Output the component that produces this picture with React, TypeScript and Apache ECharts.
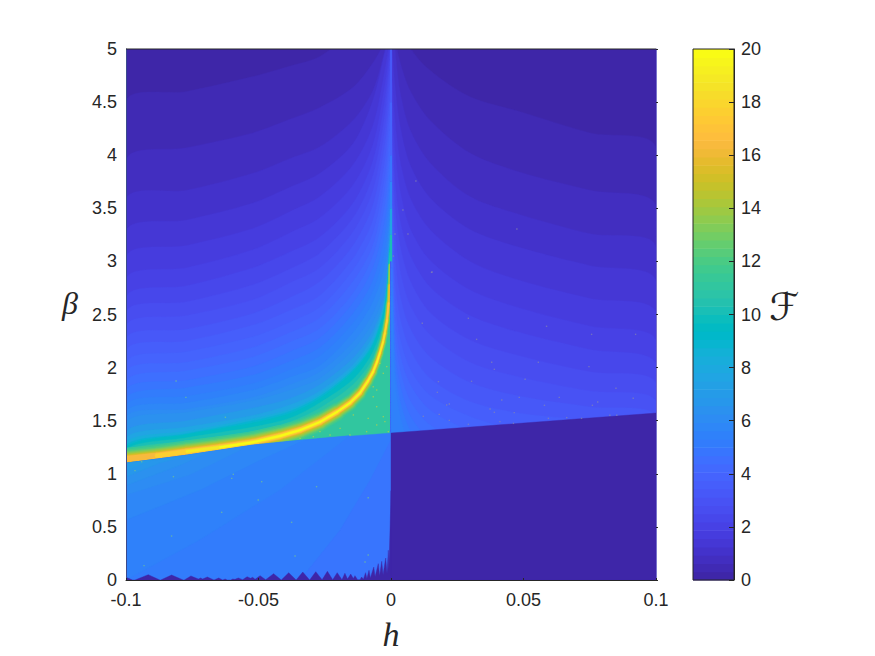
import React, { useEffect, useRef } from "react";
import * as echarts from "echarts";

// Parula colormap, 64 levels: one entry per colour-bar band
const parula: number[][] = [
  [0.2422,0.1504,0.6603],[0.2504,0.165,0.7076],[0.2578,0.1818,0.7511],[0.2647,0.1978,0.7952],
  [0.2706,0.2147,0.8364],[0.2751,0.2342,0.871],[0.2783,0.2559,0.8991],[0.2803,0.2782,0.9221],
  [0.2813,0.3006,0.9414],[0.281,0.3228,0.9579],[0.2795,0.3447,0.9717],[0.276,0.3667,0.9829],
  [0.2699,0.3892,0.9906],[0.2602,0.4123,0.9952],[0.244,0.4358,0.9988],[0.2206,0.4603,0.9973],
  [0.1963,0.4847,0.9892],[0.1834,0.5074,0.9798],[0.1786,0.5289,0.9682],[0.1764,0.5499,0.952],
  [0.1687,0.5703,0.9359],[0.154,0.5902,0.9218],[0.146,0.6091,0.9079],[0.138,0.6276,0.8973],
  [0.1248,0.6459,0.8883],[0.1113,0.6635,0.8763],[0.0952,0.6798,0.8598],[0.0689,0.6948,0.8394],
  [0.0297,0.7082,0.8163],[0.0036,0.7203,0.7917],[0.0067,0.7312,0.766],[0.0433,0.7411,0.7394],
  [0.0964,0.75,0.712],[0.1408,0.7584,0.6842],[0.1717,0.767,0.6554],[0.1938,0.7758,0.6251],
  [0.2161,0.7843,0.5923],[0.247,0.7918,0.5567],[0.2906,0.7973,0.5188],[0.3406,0.8008,0.4789],
  [0.3909,0.8029,0.4354],[0.4456,0.8024,0.3909],[0.5044,0.7993,0.348],[0.5616,0.7942,0.3045],
  [0.6174,0.7876,0.2612],[0.672,0.7793,0.2227],[0.7242,0.7698,0.191],[0.7738,0.7598,0.1646],
  [0.8203,0.7498,0.1535],[0.8634,0.7406,0.1596],[0.9035,0.733,0.1774],[0.9393,0.7288,0.21],
  [0.9728,0.7298,0.2394],[0.9956,0.7434,0.2371],[0.997,0.7659,0.2199],[0.9952,0.7893,0.2028],
  [0.9892,0.8136,0.1885],[0.9786,0.8386,0.1766],[0.9676,0.8639,0.1643],[0.961,0.889,0.1537],
  [0.9597,0.9135,0.1423],[0.9628,0.9373,0.1265],[0.9691,0.9606,0.1064],[0.9769,0.9839,0.0805],
];
const levelColor = (i: number) => {
  const c = parula[Math.max(0, Math.min(63, i))];
  return `rgb(${Math.round(c[0] * 255)},${Math.round(c[1] * 255)},${Math.round(c[2] * 255)})`;
};

const hTicks = { min: -0.1, max: 0.1, interval: 0.05 };
const betaTicks = { min: 0, max: 5, interval: 0.5 };
const fTicks = { min: 0, max: 20, interval: 2 };

// Upper-left contours (h<0): beta of each colour level at each h column
const leftH = [-0.1, -0.077, -0.0521, -0.038, -0.0268, -0.0143, -0.0068, -0.0023, -0.0004];
const leftLevels = [1,2,3,4,5,6,7,8,9,10,11,12,13,14,15,16,17,18,19,20,22,24,26,28,30,32,34];
const leftBeta: number[][] = [
  [4.5,4.6,4.74,4.84,4.93,5.18,5.37,5.46,5.65],
  [3.95,4.07,4.21,4.34,4.45,4.64,4.87,5.08,5.27],
  [3.58,3.67,3.83,3.97,4.08,4.33,4.61,4.99,5.23],
  [3.28,3.39,3.55,3.7,3.83,4.11,4.52,4.97,5.18],
  [3.04,3.15,3.31,3.47,3.61,3.91,4.28,4.8,5.08],
  [2.83,2.94,3.11,3.27,3.41,3.72,4.1,4.66,4.99],
  [2.66,2.77,2.94,3.09,3.23,3.55,3.95,4.52,4.9],
  [2.52,2.62,2.78,2.93,3.08,3.41,3.81,4.38,4.8],
  [2.39,2.49,2.64,2.8,2.94,3.28,3.67,4.24,4.66],
  [2.27,2.36,2.51,2.66,2.81,3.15,3.53,4.1,4.52],
  [2.16,2.25,2.4,2.54,2.68,3.03,3.39,3.95,4.38],
  [2.05,2.15,2.29,2.43,2.57,2.92,3.27,3.81,4.24],
  [1.96,2.05,2.19,2.33,2.47,2.81,3.15,3.67,4.1],
  [1.87,1.97,2.1,2.24,2.37,2.7,3.05,3.53,3.95],
  [1.79,1.88,2.01,2.15,2.28,2.61,2.94,3.39,3.81],
  [1.71,1.81,1.93,2.06,2.19,2.51,2.82,3.25,3.67],
  [1.65,1.73,1.85,1.98,2.11,2.42,2.72,3.11,3.53],
  [1.59,1.67,1.79,1.91,2.02,2.33,2.62,2.97,3.44],
  [1.54,1.61,1.72,1.84,1.96,2.24,2.51,2.84,3.39],
  [1.49,1.58,1.69,1.79,1.9,2.17,2.43,2.73,3.34],
  [1.4,1.5,1.62,1.71,1.84,2.09,2.35,2.68,3.25],
  [1.34,1.44,1.55,1.65,1.78,2.03,2.3,2.65,3.2],
  [1.3,1.4,1.52,1.61,1.75,2.0,2.26,2.62,3.17],
  [1.27,1.38,1.5,1.59,1.73,1.98,2.23,2.6,3.14],
  [1.25,1.37,1.48,1.57,1.71,1.96,2.21,2.58,3.13],
  [1.23,1.34,1.44,1.525,1.67,1.89,2.15,2.5,3.11],
  [1.21,1.31,1.4,1.49,1.62,1.84,2.09,2.43,3.09],
];

// Upper-right contours (h>0)
const rightH = [0.0004, 0.0015, 0.0034, 0.0072, 0.0147, 0.0298, 0.0487, 0.0751, 0.1];
const rightLevels = [1,2,3,4,5,6,7,8,9,10,11,12,13,14,15,16,17];
const rightBeta: number[][] = [
  [6.03,5.74,5.37,5.02,4.8,4.55,4.41,4.21,4.07],
  [5.46,5.13,4.88,4.61,4.33,4.02,3.84,3.67,3.52],
  [5.27,5.0,4.6,4.24,3.93,3.61,3.44,3.26,3.14],
  [4.99,4.66,4.28,3.91,3.6,3.3,3.13,2.96,2.82],
  [4.71,4.33,3.95,3.6,3.3,3.0,2.82,2.65,2.52],
  [4.47,4.05,3.67,3.31,3.01,2.73,2.56,2.39,2.26],
  [4.28,3.77,3.39,3.06,2.76,2.49,2.33,2.17,2.04],
  [4.1,3.53,3.15,2.82,2.52,2.26,2.11,1.96,1.86],
  [3.91,3.3,2.92,2.59,2.31,2.05,1.91,1.78,1.69],
  [3.72,3.06,2.68,2.37,2.1,1.86,1.73,1.63,1.55],
  [3.53,2.82,2.47,2.17,1.9,1.68,1.57,1.5,1.41],
  [3.34,2.64,2.28,1.99,1.74,1.54,1.41,1.32,1.22],
  [3.2,2.47,2.12,1.84,1.6,1.41,1.32,1.22,1.13],
  [3.06,2.31,1.98,1.69,1.46,1.27,1.1,1.0,1.0],
  [2.94,2.17,1.84,1.55,1.32,1.1,1.0,1.0,1.0],
  [2.82,2.03,1.69,1.41,1.18,1.0,1.0,1.0,1.0],
  [2.68,1.88,1.55,1.27,1.04,1.0,1.0,1.0,1.0],
];

// The resonance ridge
const ridgeH = [-0.1,-0.0883,-0.077,-0.0645,-0.0521,-0.0419,-0.0343,-0.0268,-0.0204,-0.0155,-0.0117,-0.0087,-0.0068,-0.0053,-0.0042,-0.003,-0.0023,-0.0015,-0.0009,-0.0006,-0.0004];
const ridgeBeta = [1.14,1.17,1.21,1.25,1.297,1.356,1.412,1.488,1.582,1.667,1.761,1.874,1.959,2.053,2.137,2.241,2.326,2.448,2.608,2.778,2.966];
const ridgePeak = [52,56,60,63,63,63,63,63,63,63,63,63,63,63,62,60,58,54,50,45,41];
const ridgeSpread = [1,1,1,1,1,0.95,0.9,0.85,0.75,0.66,0.58,0.52,0.46,0.42,0.38,0.34,0.3,0.26,0.2,0.15,0.1];
const ridgeLevels = [36,38,40,42,44,46,48,50,52,54,56,58,60,62,63];
const ridgeHalfPx = [11,9.5,8,7,6,5,4.2,3.5,3,2.5,2.1,1.7,1.3,1,0.7];

// The bright line along h = 0, above the ridge
const spineBeta = [5,4.5,4,3.75,3.5,3.25,3];
const spineLevel = [10,12,15,18,24,32];

// The transition curve, from h=-0.1 to h=0.1
const jumpH = [-0.1,-0.077,-0.052,-0.0268,0,0.05,0.1];
const jumpBeta = [1.1,1.175,1.271,1.333,1.384,1.478,1.572];

// Lower-left region bands, as [h, beta] outlines
const lowerBands: { level: number; pts: number[][] }[] = [
  { level: 15, pts: [[-0.0343,0],[-0.0192,0.47],[-0.0079,0.94],[0,1.32],[0,0]] },
  { level: 17, pts: [[-0.1,0],[-0.0721,0.38],[-0.0419,0.85],[-0.0155,1.36],[-0.0268,1.333],[-0.052,1.271],[-0.077,1.175],[-0.1,1.1]] },
  { level: 18, pts: [[-0.1,0.565],[-0.0721,0.847],[-0.0494,1.13],[-0.0325,1.32],[-0.052,1.271],[-0.077,1.175],[-0.1,1.1]] },
  { level: 19, pts: [[-0.1,0.8],[-0.0759,0.99],[-0.057,1.22],[-0.0557,1.255],[-0.077,1.175],[-0.1,1.1]] },
  { level: 20, pts: [[-0.1,0.89],[-0.0796,1.08],[-0.068,1.21],[-0.077,1.175],[-0.1,1.1]] },
  { level: 21, pts: [[-0.1,0.97],[-0.0875,1.1],[-0.0775,1.165],[-0.1,1.1]] },
  { level: 22, pts: [[-0.1,1.03],[-0.09,1.13],[-0.1,1.1]] },
];

// Saw-tooth edge at the bottom of the h<0 region
const teethEdge: number[][] = [
  [-0.1,0.025],[-0.0975,0],[-0.0966,0],[-0.0916,0.05],[-0.0872,0],[-0.0869,0],[-0.0828,0.047],[-0.0784,0],[-0.078,0],
  [-0.0755,0.038],[-0.0727,0.009],[-0.0718,0.019],[-0.0711,0.009],[-0.0693,0.028],[-0.0668,0],[-0.065,0.019],[-0.0635,0],
  [-0.0626,0.009],[-0.0618,0],[-0.0605,0],[-0.0597,0.009],[-0.0589,0.006],[-0.0576,0.019],[-0.056,0.003],[-0.0543,0.031],
  [-0.053,0.016],[-0.0522,0.025],[-0.0513,0.006],[-0.0494,0.041],[-0.0473,0.003],[-0.0443,0.06],[-0.0414,0],[-0.0386,0.069],
  [-0.0358,0],[-0.0333,0.075],[-0.0307,0],[-0.0284,0.078],[-0.026,0.003],[-0.024,0.082],[-0.022,0.003],[-0.0203,0.069],
  [-0.0185,0.003],[-0.0174,0.063],[-0.0164,0.009],[-0.0152,0.056],[-0.0142,0.013],[-0.0136,0.041],[-0.0126,0.003],
  [-0.0117,0.003],[-0.0111,0.028],[-0.0104,0.006],[-0.0096,0.069],[-0.0091,0.013],[-0.0083,0.091],[-0.0078,0.02],
  [-0.0065,0.122],[-0.006,0.03],[-0.0048,0.154],[-0.0043,0.04],[-0.0035,0.176],[-0.003,0.05],[-0.002,0.207],[-0.0015,0.06],
  [-0.001,0.28],[-0.0008,0.1],[-0.0003,0.53],[-0.0001,0.7],[0,0.84],
];

// Isolated numerical specks
const specksGreen: number[][] = [
  [-0.0054,1.789],[-0.0029,1.946],[-0.0042,2.04],[-0.0016,2.009],[-0.0067,1.726],[-0.0054,1.632],[-0.0029,1.538],
  [-0.0086,1.522],[-0.0142,1.554],[-0.0054,1.46],[-0.0023,1.491],[-0.0192,1.428],[-0.023,1.365],[-0.0293,1.35],
  [-0.0268,1.397],[-0.0155,1.365],[-0.0343,1.334],[-0.0092,1.397],[-0.001,1.397],[-0.0067,1.82],
];
const specksLeft: number[][] = [
  [-0.0811,1.874],[-0.0774,1.72],[-0.0625,1.532],[-0.0639,0.637],[-0.0501,0.753],[-0.0375,0.543],[-0.0821,0.973],
  [-0.0601,0.957],[-0.0595,0.995],[-0.0966,1.03],[-0.0488,0.926],[-0.0281,0.879],[-0.0086,0.775],[-0.0941,1.114],
  [-0.0828,0.414],[-0.0362,0.226],[-0.0086,0.235],[-0.0098,0.17],[-0.0932,0.135],
];
const specksRight: number[][] = [
  [0.0009,3.05],[0.0153,2.897],[0.0292,2.464],[0.0118,2.417],[0.0587,2.389],[0.0757,2.313],[0.0923,2.313],[0.0323,2.266],
  [0.038,2.05],[0.039,1.984],[0.0556,2.05],[0.0747,2.009],[0.0506,1.89],[0.0849,1.805],[0.0179,1.868],[0.0304,1.871],
  [0.0175,1.767],[0.021,1.648],[0.022,1.657],[0.0418,1.695],[0.0484,1.72],[0.0635,1.72],[0.0579,1.645],[0.076,1.645],
  [0.078,1.676],[0.0914,1.711],[0.0374,1.61],[0.0465,1.576],[0.039,1.579],[0.0122,1.541],[0.0182,1.56],[0.022,1.503],
  [0.0292,1.466],[0.0411,1.491],[0.0462,1.475],[0.0594,1.522],[0.0663,1.529],[0.0719,1.522],[0.0826,1.551],[0.0852,1.551],
  [0.0094,3.757],[0.0045,3.484],[0.0475,3.305],[0.0155,2.9],[0.0015,3.258],[0.0064,3.258],
];

const AXIS_COLOR = "#262626";
const SANS = "'Liberation Sans', Arial, sans-serif";

type Poly = { level: number; pts: number[][]; smooth?: number };
const contourPoly = (hs: number[], row: number[], level: number, side: -1 | 1): Poly => {
  const top = hs.map((h, i) => [h, row[i]]);
  return side < 0
    ? { level, smooth: 0.3, pts: [...top, [0, row[row.length - 1]], [0, 0.9], [-0.1, 0.9]] }
    : { level, smooth: 0.3, pts: [[0, row[0]], ...top, [0.1, 0.9], [0, 0.9]] };
};

const underRidge: Poly[] = [
  { level: 0, pts: [[-0.1, 0.9], [-0.1, 5], [0, 5], [0, 0.9]] },
  ...leftBeta.map((row, i) => contourPoly(leftH, row, leftLevels[i], -1)),
  {
    level: 35,
    pts: [...ridgeH.map((h, i) => [h, ridgeBeta[i]]), [0, ridgeBeta[ridgeBeta.length - 1]], [0, 0.9], [-0.1, 0.9]],
  },
];

const jumpPts = jumpH.map((h, i) => [h, jumpBeta[i]]);
const overRidge: Poly[] = [
  { level: 0, pts: [[0, 0.9], [0, 5], [0.1, 5], [0.1, 0.9]] },
  ...rightBeta.map((row, i) => contourPoly(rightH, row, rightLevels[i], 1)),
  { level: 16, pts: [...jumpPts.slice(0, 5), [0, 0], [-0.1, 0]] },
  ...lowerBands,
  { level: 0, pts: [...jumpPts.slice(4), [0.1, 0], [0, 0]] },
  { level: 0, pts: [...teethEdge, [0, -0.05], [-0.1, -0.05]] },
];

const ridgeItems: number[][] = [];
ridgeLevels.forEach((lv, l) => {
  for (let i = 0; i + 1 < ridgeH.length; i++) {
    if (lv <= ridgePeak[i])
      ridgeItems.push([ridgeH[i], ridgeBeta[i], ridgeH[i + 1], ridgeBeta[i + 1], lv, ridgeHalfPx[l] * ridgeSpread[i]]);
  }
});

const spineItems = spineBeta.slice(0, -1).map((b, i) => [0, b, spineBeta[i + 1], spineLevel[i]]);
const barItems = parula.map((_, i) => [0, (i * fTicks.max) / 64, ((i + 1) * fTicks.max) / 64, i]);

const polySeries = (polys: Poly[]) => ({
  type: "custom",
  clip: true,
  silent: true,
  coordinateSystem: "cartesian2d",
  xAxisIndex: 0,
  yAxisIndex: 0,
  data: polys.map((p, i) => [p.pts[0][0], p.pts[0][1], i]),
  renderItem: (_: any, api: any) => {
    const p = polys[api.value(2)];
    const points = p.pts.map((q) => api.coord(q));
    const shape: any = { points };
    if (p.smooth) {
      shape.smooth = p.smooth;
      shape.smoothConstraint = [points[0], points[0]];
    }
    return {
      type: "polygon",
      shape,
      style: { fill: levelColor(p.level), stroke: levelColor(p.level), lineWidth: 0.4 },
    };
  },
});

const speckSeries = (data: number[][], color: string) => ({
  type: "scatter",
  silent: true,
  xAxisIndex: 0,
  yAxisIndex: 0,
  symbol: "rect",
  symbolSize: 1.4,
  itemStyle: { color },
  data,
});

export default function App() {
  const ref = useRef<HTMLDivElement>(null);
  useEffect(() => {
    const chart = echarts.init(ref.current!, undefined, { renderer: "svg" });
    const tickLabel = { fontFamily: SANS, fontSize: 18, color: AXIS_COLOR };
    chart.setOption({
      animation: false,
      backgroundColor: "#ffffff",
      grid: [
        { left: 126, top: 49, width: 530, height: 531, outerBoundsMode: "none" },
        { left: 693, top: 49, width: 41, height: 531, outerBoundsMode: "none" },
      ],
      graphic: [
        {
          type: "text", x: 70, y: 303, z: 10, silent: true,
          style: { text: "β", x: 0, y: 0, align: "center", verticalAlign: "middle", fill: AXIS_COLOR, font: "italic 32px 'Liberation Serif', serif" },
        },
        {
          type: "text", x: 784, y: 307, z: 10, silent: true,
          style: { text: "ℱ", x: 0, y: 0, align: "center", verticalAlign: "middle", fill: AXIS_COLOR, font: "38px 'DejaVu Sans', serif" },
        },
      ],
      xAxis: [
        {
          type: "value", gridIndex: 0, ...hTicks, z: 5,
          name: "h", nameLocation: "middle", nameGap: 37,
          nameTextStyle: { fontFamily: "'Liberation Serif', serif", fontStyle: "italic", fontSize: 34, color: AXIS_COLOR },
          axisLine: { show: true, onZero: false, lineStyle: { color: AXIS_COLOR } },
          axisTick: { show: true, inside: true, length: 2, lineStyle: { color: AXIS_COLOR } },
          axisLabel: { ...tickLabel, margin: 11 },
          splitLine: { show: false },
        },
        { type: "value", gridIndex: 1, min: 0, max: 1, show: false },
      ],
      yAxis: [
        {
          type: "value", gridIndex: 0, ...betaTicks, z: 5,
          axisLine: { show: true, onZero: false, lineStyle: { color: "#3a4a8c" } },
          axisTick: { show: false },
          axisLabel: { ...tickLabel, margin: 9 },
          splitLine: { show: false },
        },
        {
          type: "value", gridIndex: 0, ...betaTicks, position: "right", z: 5,
          axisLine: { show: true, onZero: false, lineStyle: { color: "#7a74cc" } },
          axisTick: { show: true, length: 2, lineStyle: { color: AXIS_COLOR } },
          axisLabel: { show: false },
          splitLine: { show: false },
        },
        {
          type: "value", gridIndex: 1, ...fTicks, position: "right", z: 5,
          axisLine: { show: true, onZero: false, lineStyle: { color: AXIS_COLOR } },
          axisTick: { show: true, inside: true, length: 5, lineStyle: { color: AXIS_COLOR } },
          axisLabel: { ...tickLabel, margin: 7 },
          splitLine: { show: false },
        },
      ],
      series: [
        polySeries(underRidge),
        {
          type: "custom", clip: true, silent: true, xAxisIndex: 0, yAxisIndex: 0,
          data: ridgeItems,
          renderItem: (_: any, api: any) => {
            const a = api.coord([api.value(0), api.value(1)]);
            const b = api.coord([api.value(2), api.value(3)]);
            return {
              type: "line",
              shape: { x1: a[0], y1: a[1], x2: b[0], y2: b[1] },
              style: { stroke: levelColor(api.value(4)), lineWidth: api.value(5) * 2, lineCap: "round" },
            };
          },
        },
        polySeries(overRidge),
        {
          type: "custom", clip: true, silent: true, xAxisIndex: 0, yAxisIndex: 0,
          data: spineItems,
          renderItem: (_: any, api: any) => {
            const a = api.coord([api.value(0), api.value(1)]);
            const b = api.coord([api.value(0), api.value(2)]);
            return {
              type: "line",
              shape: { x1: a[0], y1: a[1], x2: b[0], y2: b[1] },
              style: { stroke: levelColor(api.value(3)), lineWidth: 2.2 },
            };
          },
        },
        speckSeries(specksGreen, "rgba(190,210,70,0.8)"),
        speckSeries(specksLeft, "rgba(120,200,140,0.8)"),
        speckSeries(specksRight, "rgba(140,140,170,0.75)"),
        {
          type: "custom", silent: true, xAxisIndex: 1, yAxisIndex: 2,
          data: barItems,
          renderItem: (_: any, api: any) => {
            const a = api.coord([0, api.value(2)]);
            const b = api.coord([1, api.value(1)]);
            return {
              type: "rect",
              shape: { x: a[0], y: a[1], width: b[0] - a[0], height: b[1] - a[1] + 0.6 },
              style: { fill: levelColor(api.value(3)) },
            };
          },
        },
        {
          type: "custom", silent: true, xAxisIndex: 1, yAxisIndex: 2, z: 6,
          data: [[0, fTicks.min, fTicks.max]],
          renderItem: (_: any, api: any) => {
            const a = api.coord([0, api.value(2)]);
            const b = api.coord([1, api.value(1)]);
            return {
              type: "rect",
              shape: { x: a[0], y: a[1], width: b[0] - a[0], height: b[1] - a[1] },
              style: { fill: "none", stroke: AXIS_COLOR, lineWidth: 1 },
            };
          },
        },
        {
          type: "custom", silent: true, xAxisIndex: 0, yAxisIndex: 0, z: 6,
          data: [[hTicks.min, betaTicks.max, hTicks.max]],
          renderItem: (_: any, api: any) => {
            const a = api.coord([api.value(0), api.value(1)]);
            const b = api.coord([api.value(2), api.value(1)]);
            return {
              type: "line",
              shape: { x1: a[0], y1: a[1], x2: b[0], y2: b[1] },
              style: { stroke: AXIS_COLOR, lineWidth: 1 },
            };
          },
        },
      ],
    });
    return () => chart.dispose();
  }, []);
  return <div ref={ref} style={{ position: "absolute", left: 0, top: 0, width: 875, height: 656 }} />;
}
